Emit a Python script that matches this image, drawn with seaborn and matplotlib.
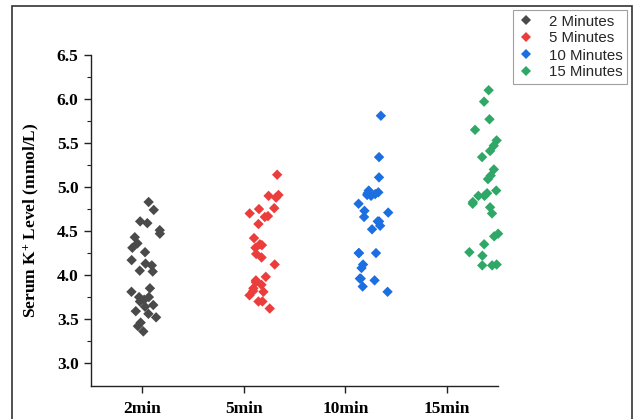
import numpy as np
import pandas as pd
import matplotlib
matplotlib.use("Agg")
import matplotlib.pyplot as plt
from matplotlib.patches import Rectangle
import seaborn as sns

# ---- data ----
categories = ["2min", "5min", "10min", "15min"]
legend_labels = ["2 Minutes", "5 Minutes", "10 Minutes", "15 Minutes"]
k_2min = [4.83, 4.74, 4.61, 4.59, 4.51, 4.47, 4.43, 4.36, 4.31, 4.26, 4.17, 4.13,
          4.11, 4.05, 4.04, 3.85, 3.81, 3.75, 3.75, 3.72, 3.70, 3.66, 3.64, 3.59,
          3.56, 3.52, 3.46, 3.42, 3.36]
k_5min = [5.14, 4.91, 4.90, 4.88, 4.76, 4.75, 4.70, 4.67, 4.66, 4.58, 4.42, 4.35,
          4.34, 4.31, 4.24, 4.20, 4.12, 3.98, 3.94, 3.92, 3.89, 3.85, 3.82, 3.81,
          3.77, 3.70, 3.70, 3.62]
k_10min = [5.81, 5.34, 5.11, 4.96, 4.94, 4.93, 4.92, 4.91, 4.90, 4.81, 4.73, 4.71,
           4.66, 4.61, 4.61, 4.56, 4.52, 4.25, 4.25, 4.25, 4.12, 4.08, 3.96, 3.96,
           3.94, 3.87, 3.81]
k_15min = [6.10, 5.97, 5.77, 5.65, 5.53, 5.47, 5.41, 5.34, 5.20, 5.13, 5.09, 4.96,
           4.93, 4.90, 4.90, 4.83, 4.81, 4.77, 4.70, 4.47, 4.44, 4.35, 4.26, 4.22,
           4.12, 4.11, 4.11]
colors = ["#4a4a4a", "#ec3d3d", "#1c6fe0", "#2fa867"]

series = [k_2min, k_5min, k_10min, k_15min]
df = pd.DataFrame({
    "group": np.concatenate([[c] * len(v) for c, v in zip(categories, series)]),
    "label": np.concatenate([[l] * len(v) for l, v in zip(legend_labels, series)]),
    "value": np.concatenate(series),
})

# ---- style ----
sns.set_theme(style="ticks")
plt.rcParams["font.family"] = ["Liberation Serif", "DejaVu Serif"]
plt.rcParams["mathtext.fontset"] = "custom"
plt.rcParams["mathtext.rm"] = "Liberation Serif:bold"
plt.rcParams["mathtext.bf"] = "Liberation Serif:bold"
plt.rcParams["mathtext.default"] = "bf"

fig = plt.figure(figsize=(6.35, 4.19), dpi=100)
ax = fig.add_axes([91 / 635, 1 - 386 / 419, (498 - 91) / 635, (386 - 55) / 419])

np.random.seed(3)
sns.stripplot(data=df, x="group", y="value", hue="label", order=categories,
              hue_order=legend_labels, palette=colors, marker="D", size=5.3,
              jitter=0.16, linewidth=0, ax=ax, legend=True)

# the point clouds sit to the right of their ticks in the reference
shifts = [0.05, 0.19, 0.27, 0.35]
for coll in ax.collections:
    offs = coll.get_offsets()
    if len(offs) == 0:
        continue
    gi = int(round(np.median(offs[:, 0])))
    offs[:, 0] = offs[:, 0] + shifts[gi]
    coll.set_offsets(offs)
    coll.set_clip_on(False)

ax.set_xlim(-0.5, 3.5)
ax.set_ylim(2.74, 6.5)
ax.set_yticks(np.arange(3.0, 6.51, 0.5))
ax.set_yticks(np.arange(3.0, 6.51, 0.25), minor=True)
ax.set_yticklabels([f"{v:.1f}" for v in np.arange(3.0, 6.51, 0.5)])
ax.set_xticks(range(len(categories)))
ax.set_xticklabels(categories)

for lab in ax.get_xticklabels() + ax.get_yticklabels():
    lab.set_fontweight("bold")
    lab.set_fontsize(12.5)
    lab.set_color("black")

ax.set_xlabel("")
ax.set_ylabel("Serum K$^{+}$ Level (mmol/L)", fontsize=12.5, fontweight="bold",
              color="black", labelpad=11)

sns.despine(ax=ax)
for s in ["left", "bottom"]:
    ax.spines[s].set_color("#222222")
    ax.spines[s].set_linewidth(1.0)
ax.tick_params(axis="both", which="major", direction="out", length=5, width=1,
               color="#222222", pad=4)
ax.tick_params(axis="y", which="minor", direction="out", length=3, width=0.8,
               color="#222222")
ax.tick_params(axis="x", pad=6)

handles, labels = ax.get_legend_handles_labels()
ax.get_legend().remove()
leg = fig.legend(handles, labels, loc="upper right",
                 bbox_to_anchor=(627 / 635, 1 - 10 / 419),
                 bbox_transform=fig.transFigure, frameon=True, fancybox=False,
                 borderaxespad=0, prop={"family": "Liberation Sans", "size": 10.8},
                 handlelength=1.2, handletextpad=0.9, labelspacing=0.2,
                 borderpad=0.3)
leg.get_frame().set_edgecolor("#888888")
leg.get_frame().set_linewidth(0.8)

# outer frame around the figure
fig.patches.append(Rectangle((12 / 635, -0.05), (632 - 12) / 635, 1.05 - 6 / 419,
                             transform=fig.transFigure, fill=False,
                             edgecolor="#333333", linewidth=1.2))

fig.savefig("out.png", dpi=100)
